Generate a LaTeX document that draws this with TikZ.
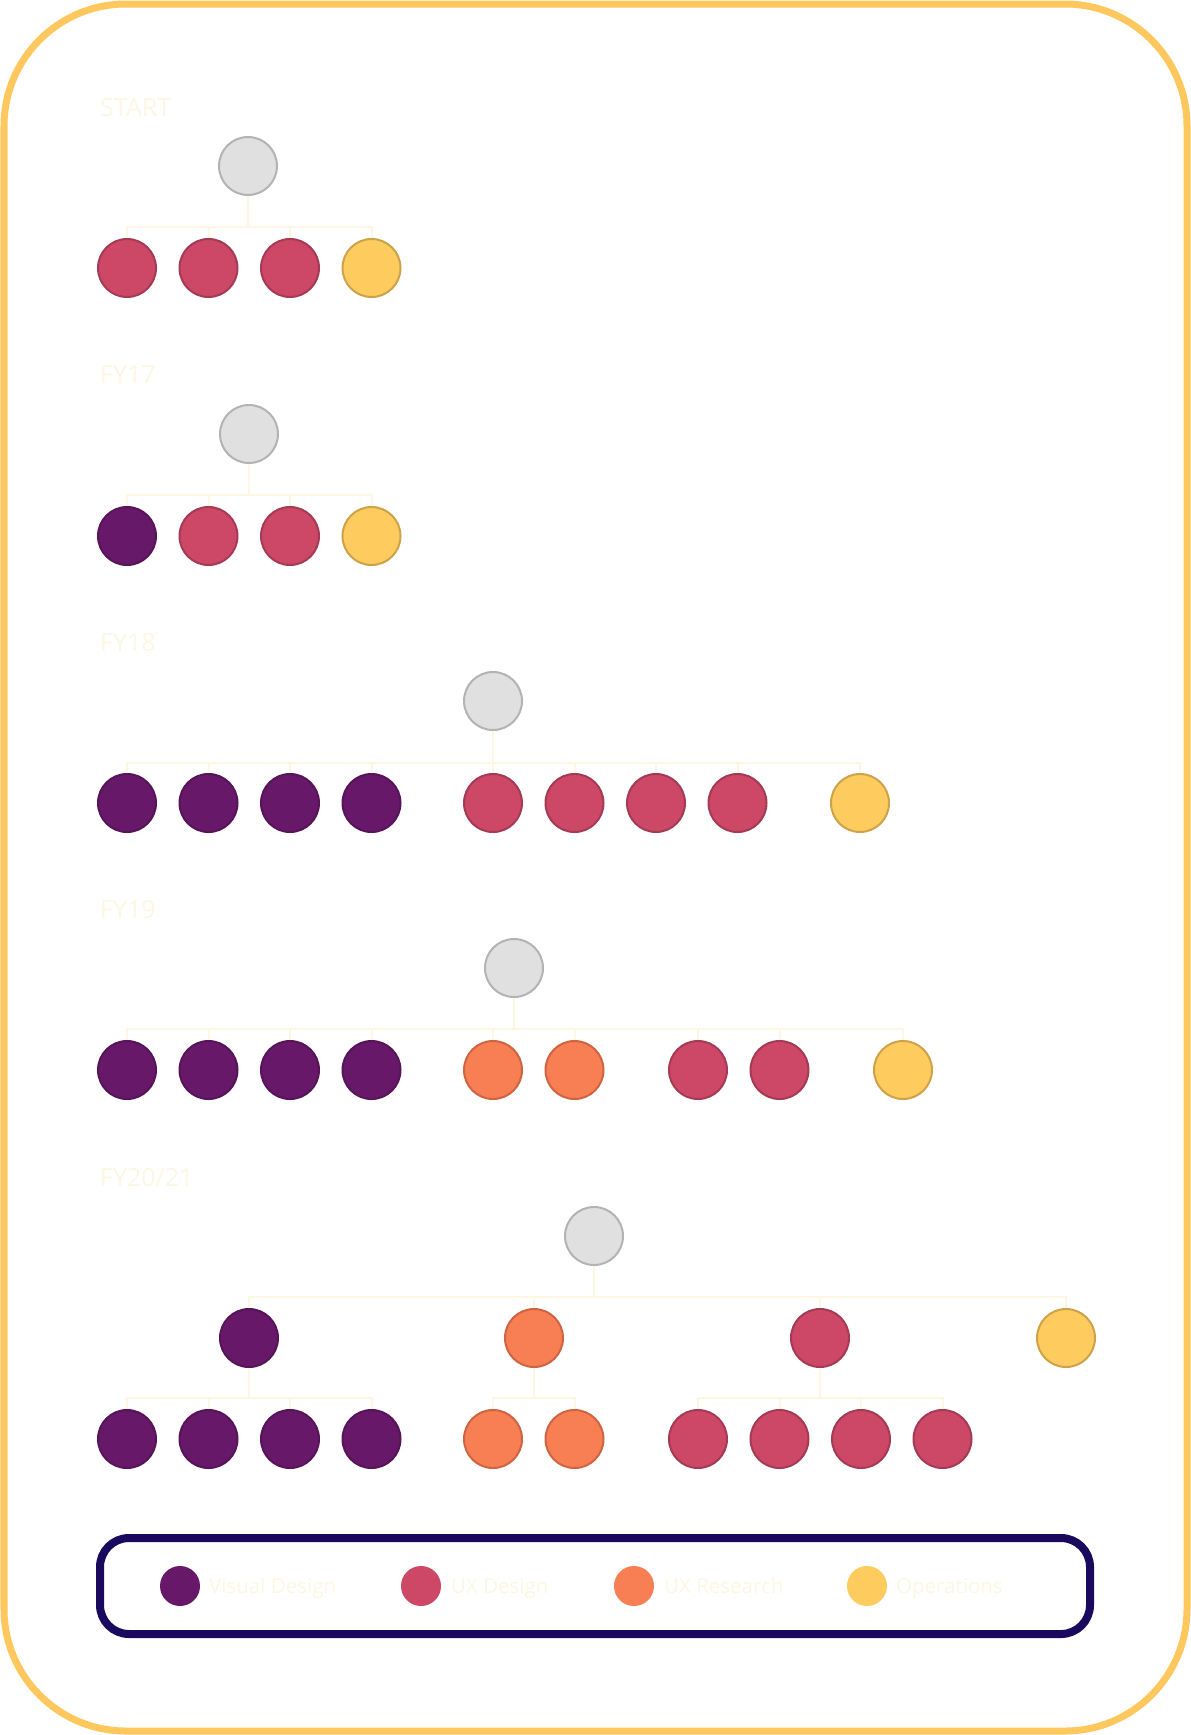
\documentclass[tikz,border=0pt]{standalone}
\usepackage{fontspec}
\setmainfont{Open Sans}
\usepackage{tikz}
\usetikzlibrary{calc}

\definecolor{frameYellow}{HTML}{FEC85F}
\definecolor{legendNavy}{HTML}{1A0A5E}
\definecolor{cream}{HTML}{FCF6E2}
\definecolor{leadFill}{HTML}{E0E0E0}
\definecolor{leadLine}{HTML}{B3B3B3}
\definecolor{vdFill}{HTML}{671869}
\definecolor{vdLine}{HTML}{571459}
\definecolor{uxdFill}{HTML}{CC4866}
\definecolor{uxdLine}{HTML}{A53A55}
\definecolor{uxrFill}{HTML}{F77F53}
\definecolor{uxrLine}{HTML}{CE6442}
\definecolor{opsFill}{HTML}{FECB5F}
\definecolor{opsLine}{HTML}{CDA249}

\begin{document}
\begin{tikzpicture}[x=1pt,y=-1pt,
	member/.style={circle,minimum size=58pt,inner sep=0pt,line width=2pt},
	lead/.style={member,fill=leadFill,draw=leadLine},
	vd/.style={member,fill=vdFill,draw=vdLine},
	uxd/.style={member,fill=uxdFill,draw=uxdLine},
	uxr/.style={member,fill=uxrFill,draw=uxrLine},
	ops/.style={member,fill=opsFill,draw=opsLine},
	year/.style={text=cream,font=\fontsize{25}{30}\selectfont,anchor=base west,inner sep=0pt},
	key/.style={circle,minimum size=40pt,inner sep=0pt},
	keytext/.style={text=cream,font=\fontsize{20.5}{25}\selectfont,anchor=base west,inner sep=0pt},
	bus/.style={to path={-| (\tikztotarget)}}]
	\useasboundingbox (0,0) rectangle (1191,1735);
	\draw[frameYellow,line width=7pt,rounded corners=122pt] (4,4) rectangle (1187,1731);

	% START
	\node[year] (Lstart) at (100,116) {START};
	\node[lead] (R1) at (248,166) {};
	\node[uxd] (S1a) at (127,268) {};
	\node[uxd] (S1b) at (208.5,268) {};
	\node[uxd] (S1c) at (290,268) {};
	\node[ops] (S1d) at (371.5,268) {};
	\coordinate (B1) at (248,227);

	% FY17
	\node[year] (Lfy17) at (100,383) {FY17};
	\node[lead] (R2) at (249,434) {};
	\node[vd] (S2a) at (127,536) {};
	\node[uxd] (S2b) at (208.5,536) {};
	\node[uxd] (S2c) at (290,536) {};
	\node[ops] (S2d) at (371.5,536) {};
	\coordinate (B2) at (249,495);

	% FY18
	\node[year] (Lfy18) at (100,651) {FY18};
	\node[lead] (R3) at (493,701) {};
	\node[vd] (S3a) at (127,803) {};
	\node[vd] (S3b) at (208.5,803) {};
	\node[vd] (S3c) at (290,803) {};
	\node[vd] (S3d) at (371.5,803) {};
	\node[uxd] (S3e) at (493,803) {};
	\node[uxd] (S3f) at (574.5,803) {};
	\node[uxd] (S3g) at (656,803) {};
	\node[uxd] (S3h) at (737.5,803) {};
	\node[ops] (S3i) at (860,803) {};
	\coordinate (B3) at (493,763);

	% FY19
	\node[year] (Lfy19) at (100,918) {FY19};
	\node[lead] (R4) at (514,968) {};
	\node[vd] (S4a) at (127,1070) {};
	\node[vd] (S4b) at (208.5,1070) {};
	\node[vd] (S4c) at (290,1070) {};
	\node[vd] (S4d) at (371.5,1070) {};
	\node[uxr] (S4e) at (493,1070) {};
	\node[uxr] (S4f) at (574.5,1070) {};
	\node[uxd] (S4g) at (698,1070) {};
	\node[uxd] (S4h) at (779.5,1070) {};
	\node[ops] (S4i) at (903,1070) {};
	\coordinate (B4) at (514,1029);

	% FY20/21
	\node[year] (Lfy20) at (100,1186) {FY20/21};
	\node[lead] (R5) at (594,1236) {};
	\node[vd] (M5a) at (249,1338) {};
	\node[uxr] (M5b) at (534,1338) {};
	\node[uxd] (M5c) at (820,1338) {};
	\node[ops] (M5d) at (1066,1338) {};
	\node[vd] (S5a) at (127,1439) {};
	\node[vd] (S5b) at (208.5,1439) {};
	\node[vd] (S5c) at (290,1439) {};
	\node[vd] (S5d) at (371.5,1439) {};
	\node[uxr] (S5e) at (493,1439) {};
	\node[uxr] (S5f) at (574.5,1439) {};
	\node[uxd] (S5g) at (698,1439) {};
	\node[uxd] (S5h) at (779.5,1439) {};
	\node[uxd] (S5i) at (861,1439) {};
	\node[uxd] (S5j) at (942.5,1439) {};
	\coordinate (B5) at (594,1297);
	\coordinate (B5a) at (249,1398);
	\coordinate (B5b) at (534,1398);
	\coordinate (B5c) at (820,1398);

	\begin{scope}[every edge/.style={draw=cream,line width=2pt}]
	\path (R1) edge (B1) (B1) edge[bus] (S1a) edge[bus] (S1b) edge[bus] (S1c) edge[bus] (S1d);
	\path (R2) edge (B2) (B2) edge[bus] (S2a) edge[bus] (S2b) edge[bus] (S2c) edge[bus] (S2d);
	\path (R3) edge (B3) (B3) edge[bus] (S3a) edge[bus] (S3d) edge[bus] (S3b) edge[bus] (S3c)
		edge[bus] (S3e) edge[bus] (S3f) edge[bus] (S3g) edge[bus] (S3h) edge[bus] (S3i);
	\path (R4) edge (B4) (B4) edge[bus] (S4a) edge[bus] (S4b) edge[bus] (S4c) edge[bus] (S4d)
		edge[bus] (S4e) edge[bus] (S4f) edge[bus] (S4g) edge[bus] (S4h) edge[bus] (S4i);
	\path (R5) edge (B5) (B5) edge[bus] (M5a) edge[bus] (M5b) edge[bus] (M5c) edge[bus] (M5d);
	\path (M5a) edge (B5a) (B5a) edge[bus] (S5a) edge[bus] (S5b) edge[bus] (S5c) edge[bus] (S5d);
	\path (M5b) edge (B5b) (B5b) edge[bus] (S5e) edge[bus] (S5f);
	\path (M5c) edge (B5c) (B5c) edge[bus] (S5g) edge[bus] (S5h) edge[bus] (S5i) edge[bus] (S5j);
	\end{scope}

	% legend
	\draw[legendNavy,line width=8pt,rounded corners=29pt] (100,1538) rectangle (1090,1634);
	\node[key,fill=vdFill] (Kvd) at (180,1586) {};
	\node[keytext] (Tvd) at (209,1593) {Visual Design};
	\node[key,fill=uxdFill] (Kuxd) at (421,1586) {};
	\node[keytext] (Tuxd) at (451,1593) {UX Design};
	\node[key,fill=uxrFill] (Kuxr) at (634,1586) {};
	\node[keytext] (Tuxr) at (664,1593) {UX Research};
	\node[key,fill=opsFill] (Kops) at (867,1586) {};
	\node[keytext] (Tops) at (896,1593) {Operations};
\end{tikzpicture}
\end{document}
